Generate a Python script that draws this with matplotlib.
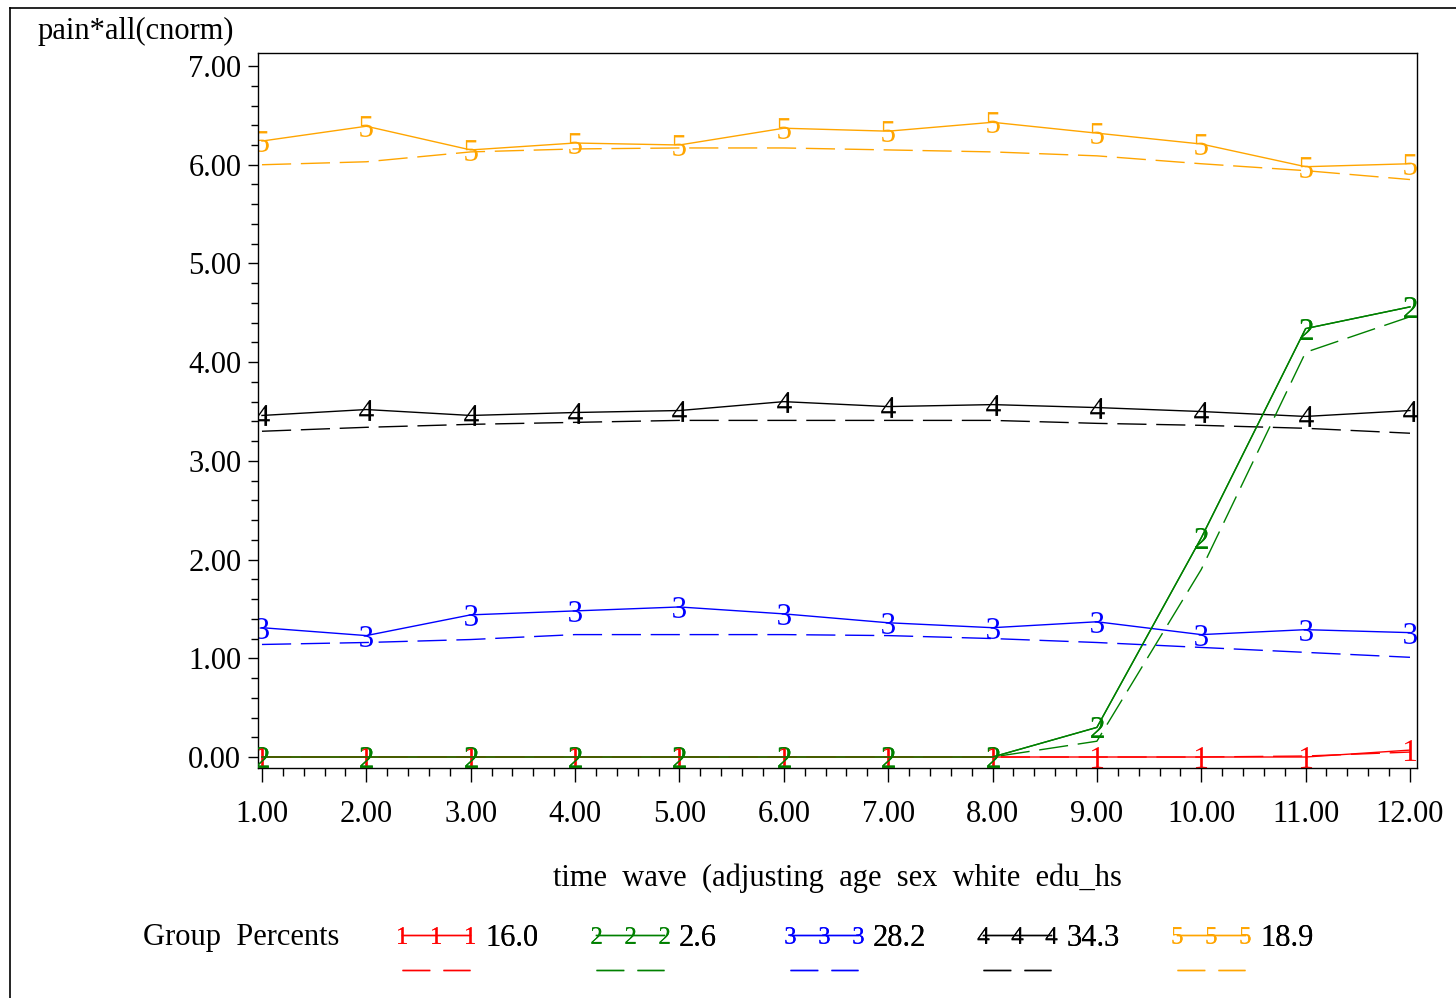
import numpy as np
import matplotlib
matplotlib.use("Agg")
import matplotlib.pyplot as plt
from matplotlib.lines import Line2D
from matplotlib.legend_handler import HandlerLine2D
from matplotlib.ticker import MultipleLocator, FormatStrFormatter

plt.rcParams['font.family'] = ['Liberation Serif', 'DejaVu Serif']
plt.rcParams['mathtext.fontset'] = 'custom'
plt.rcParams['mathtext.rm'] = 'Liberation Serif'

# time waves
waves = np.arange(1, 13)

# observed (solid) and predicted (dashed) trajectories per group
obs_1 = [0.0, 0.0, 0.0, 0.0, 0.0, 0.0, 0.0, 0.0, 0.0, 0.0, 0.0, 0.07]
pred_1 = [0.0, 0.0, 0.0, 0.0, 0.0, 0.0, 0.0, 0.0, 0.0, 0.0, 0.01, 0.05]
obs_2 = [0.0, 0.0, 0.0, 0.0, 0.0, 0.0, 0.0, 0.0, 0.30, 2.22, 4.34, 4.56]
pred_2 = [0.0, 0.0, 0.0, 0.0, 0.0, 0.0, 0.0, 0.0, 0.16, 1.90, 4.10, 4.46]
obs_3 = [1.31, 1.23, 1.44, 1.48, 1.52, 1.45, 1.36, 1.31, 1.37, 1.24, 1.29, 1.26]
pred_3 = [1.14, 1.16, 1.19, 1.24, 1.24, 1.24, 1.23, 1.20, 1.16, 1.11, 1.06, 1.01]
obs_4 = [3.46, 3.52, 3.46, 3.49, 3.51, 3.60, 3.55, 3.57, 3.54, 3.50, 3.45, 3.51]
pred_4 = [3.30, 3.34, 3.37, 3.39, 3.41, 3.41, 3.41, 3.41, 3.38, 3.36, 3.33, 3.28]
obs_5 = [6.24, 6.39, 6.15, 6.22, 6.20, 6.37, 6.34, 6.43, 6.32, 6.21, 5.98, 6.01]
pred_5 = [6.00, 6.03, 6.13, 6.16, 6.17, 6.17, 6.15, 6.13, 6.09, 6.01, 5.94, 5.85]

group_ids = ['1', '2', '3', '4', '5']
group_pcts = ['16.0', '2.6', '28.2', '34.3', '18.9']
group_colors = ['#ff0000', '#008000', '#0000ff', '#000000', '#ffa500']
observed = [obs_1, obs_2, obs_3, obs_4, obs_5]
predicted = [pred_1, pred_2, pred_3, pred_4, pred_5]

dash = (0, (21, 7))
fs = 22

fig = plt.figure(figsize=(14.56, 9.98), dpi=100)
ax = fig.add_axes([0.1772, 0.2305, 0.7960, 0.7164])

# draw groups 5..1 so that group 1/2 sit on top like the original
for gid, col, obs, pred in reversed(list(zip(group_ids, group_colors, observed, predicted))):
    ax.plot(waves, pred, color=col, lw=1.0, linestyle=dash)
    ax.plot(waves, obs, color=col, lw=1.0, marker='$%s$' % gid,
            markersize=15, markeredgewidth=0)
# green over red for the flat part
ax.plot(waves, obs_2, color=group_colors[1], lw=1.0, marker='$2$',
        markersize=15, markeredgewidth=0, zorder=3)

ax.set_xlim(0.962, 12.067)
ax.set_ylim(-0.111, 7.132)
ax.xaxis.set_major_locator(MultipleLocator(1))
ax.xaxis.set_minor_locator(MultipleLocator(0.2))
ax.yaxis.set_major_locator(MultipleLocator(1))
ax.yaxis.set_minor_locator(MultipleLocator(0.2))
ax.xaxis.set_major_formatter(FormatStrFormatter('%.2f'))
ax.yaxis.set_major_formatter(FormatStrFormatter('%.2f'))
ax.tick_params(axis='x', which='major', length=10, width=1, pad=13, labelsize=fs)
ax.tick_params(axis='x', which='minor', length=6, width=1)
ax.tick_params(axis='y', which='major', length=7, width=1, pad=5, labelsize=fs)
ax.tick_params(axis='y', which='minor', length=5, width=1)
for s in ax.spines.values():
    s.set_linewidth(1.0)

ax.set_xlabel('time  wave  (adjusting  age  sex  white  edu_hs', fontsize=fs, labelpad=25)
fig.text(38 / 1456, 1 - 31 / 998, 'pain*all(cnorm)', fontsize=fs, ha='left', va='center')

# legend: one small block per group
fig.text(143 / 1456, 1 - 937 / 998, 'Group  Percents', fontsize=fs, ha='left', va='center')
leg_x = [402, 596, 790, 983, 1177]
for gid, col, pct, lx in zip(group_ids, group_colors, group_pcts, leg_x):
    h_solid = Line2D([], [], color=col, lw=1.0, marker='$%s$' % gid,
                     markersize=12, markeredgewidth=0)
    h_dash = Line2D([], [], color=col, lw=1.0, linestyle=(0, (20, 9.5)))
    leg = fig.legend([h_solid, h_dash], [pct, ' '], loc='upper left',
                     bbox_to_anchor=(lx / 1456, 1 - 924 / 998),
                     frameon=False, fontsize=fs, numpoints=3, handlelength=2.22,
                     handletextpad=0.5, labelspacing=0.2, borderpad=0, borderaxespad=0,
                     handler_map={Line2D: HandlerLine2D(marker_pad=0)})
    fig.add_artist(leg)

# outer frame (left and top edges)
fig.add_artist(Line2D([10 / 1456, 10 / 1456], [0, 1 - 8 / 998], color='black', lw=1.2,
                      transform=fig.transFigure))
fig.add_artist(Line2D([10 / 1456, 1], [1 - 8 / 998, 1 - 8 / 998], color='black', lw=1.2,
                      transform=fig.transFigure))

fig.savefig('out.png', dpi=100)
